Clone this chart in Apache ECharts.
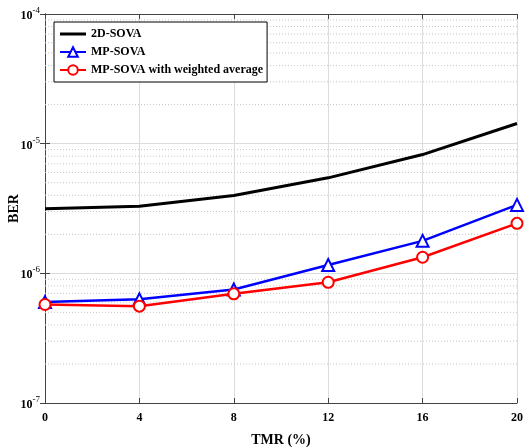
<!DOCTYPE html>
<html>
<head>
<meta charset="utf-8">
<script src="https://cdn.jsdelivr.net/npm/echarts@6/dist/echarts.min.js"></script>
<style>html,body{margin:0;padding:0;background:#fff;}#c{width:527px;height:448px;}</style>
</head>
<body>
<div id="c"></div>
<script>
var tmr = [0, 4, 8, 12, 16, 20];
var ber2D = [3.15e-6, 3.29e-6, 3.99e-6, 5.45e-6, 8.24e-6, 1.43e-5];
var berMP = [6.0e-7, 6.3e-7, 7.5e-7, 1.16e-6, 1.78e-6, 3.37e-6];
var berMPW = [5.75e-7, 5.58e-7, 6.95e-7, 8.53e-7, 1.33e-6, 2.43e-6];
var xTicks = [0, 4, 8, 12, 16, 20];
var yDecades = [1e-7, 1e-6, 1e-5, 1e-4];

function pairs(xs, ys) { return xs.map(function (x, i) { return [x, ys[i]]; }); }
// minor (2..9 x decade) dotted grid lines, drawn as broken segments across the x range
var minorGrid = [];
for (var d = 0; d < yDecades.length - 1; d++) {
  for (var m = 2; m <= 9; m++) {
    var v = m * yDecades[d];
    minorGrid.push([xTicks[0], v], [xTicks[xTicks.length - 1], v], ['-', '-']);
  }
}
var font = '"Liberation Serif", "DejaVu Serif", serif';
function fmt(v) {
  var e = Math.round(Math.log10(v));
  return '{b|10}{s|' + e + '}';
}
var chart = echarts.init(document.getElementById('c'), null, { renderer: 'canvas' });
chart.setOption({
  animation: false,
  backgroundColor: '#fff',
  grid: { left: 45, right: 10, top: 14, bottom: 45, containLabel: false, outerBoundsMode: 'none' },
  legend: {
    orient: 'vertical', left: 54, top: 22,
    backgroundColor: '#fff', borderColor: '#000', borderWidth: 1,
    padding: [6, 4, 6, 5], itemWidth: 26, itemHeight: 12, itemGap: 6,
    textStyle: { fontFamily: font, fontWeight: 'bold', fontSize: 12, color: '#000' },
    data: [
      { name: '2D-SOVA', icon: 'path://M0,0H26V3H0Z' },
      'MP-SOVA', 'MP-SOVA with weighted average'
    ]
  },
  xAxis: [{
    type: 'value', min: 0, max: 20, interval: 4,
    name: 'TMR (%)', nameLocation: 'middle', nameGap: 30,
    nameTextStyle: { fontFamily: font, fontWeight: 'bold', fontSize: 14, color: '#000' },
    axisLine: { lineStyle: { color: '#444' } },
    axisTick: { inside: true, length: 5, lineStyle: { color: '#444' } },
    axisLabel: { fontFamily: font, fontWeight: 'bold', fontSize: 12, color: '#000', margin: 9 },
    splitLine: { show: true, lineStyle: { color: '#dcdcdc', width: 1 } }
  }, {
    type: 'value', min: 0, max: 20, interval: 4, position: 'top',
    axisLine: { show: true, lineStyle: { color: '#444' } },
    axisTick: { show: true, inside: true, length: 5, lineStyle: { color: '#444' } },
    axisLabel: { show: false }, splitLine: { show: false }
  }],
  yAxis: [{
    type: 'log', logBase: 10, min: 1e-7, max: 1e-4,
    name: 'BER', nameLocation: 'middle', nameGap: 24, nameMoveOverlap: false,
    nameTextStyle: { fontFamily: font, fontWeight: 'bold', fontSize: 14, color: '#000' },
    axisLine: { show: true, lineStyle: { color: '#444' } },
    axisTick: { show: true, inside: true, length: 5, lineStyle: { color: '#444' } },
    axisLabel: {
      formatter: fmt, margin: 5,
      rich: {
        b: { fontFamily: font, fontSize: 12, color: '#000', fontWeight: 'bold', padding: [4, 0, 0, 0] },
        s: { fontFamily: font, fontSize: 9, color: '#000', verticalAlign: 'top', padding: [0, 0, 4, 0] }
      }
    },
    splitLine: { show: true, lineStyle: { color: '#dcdcdc', width: 1 } }
  }, {
    type: 'log', logBase: 10, min: 1e-7, max: 1e-4, position: 'right',
    axisLine: { show: true, lineStyle: { color: '#444' } },
    axisTick: { show: true, inside: true, length: 5, lineStyle: { color: '#444' } },
    axisLabel: { show: false }, splitLine: { show: false }
  }],
  series: [{
    name: 'minor-grid', type: 'line', data: minorGrid, silent: true,
    symbol: 'none', connectNulls: false, z: 1, legendHoverLink: false,
    lineStyle: { color: '#c4c4c4', type: [1, 2], width: 1 },
    emphasis: { disabled: true }, tooltip: { show: false }
  }, {
    name: '2D-SOVA', type: 'line', data: pairs(tmr, ber2D),
    symbol: 'none', smooth: false, z: 3,
    lineStyle: { color: '#000', width: 3 }, itemStyle: { color: '#000' }
  }, {
    name: 'MP-SOVA', type: 'line', data: pairs(tmr, berMP),
    symbol: 'triangle', symbolSize: 12, z: 4,
    lineStyle: { color: '#0000ff', width: 2.5 },
    itemStyle: { color: '#fff', borderColor: '#0000ff', borderWidth: 2 }
  }, {
    name: 'MP-SOVA with weighted average', type: 'line', data: pairs(tmr, berMPW),
    symbol: 'circle', symbolSize: 11, z: 5,
    lineStyle: { color: '#ff0000', width: 2.5 },
    itemStyle: { color: '#fff', borderColor: '#ff0000', borderWidth: 2 }
  }]
});
</script>
</body>
</html>
